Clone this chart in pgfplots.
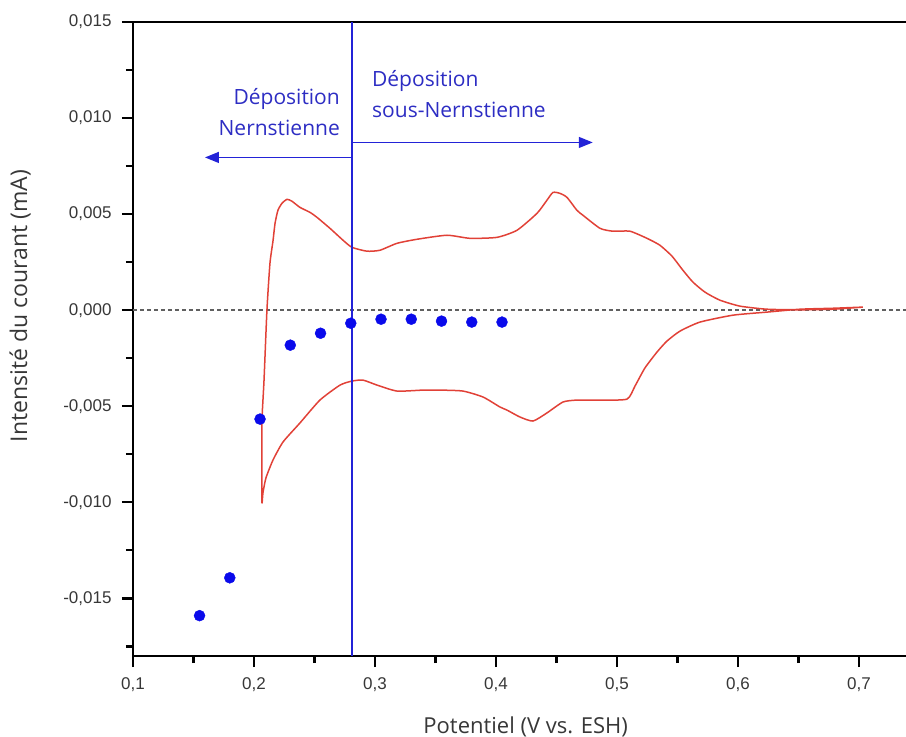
\documentclass[border=0pt]{standalone}
\usepackage{fontspec}
\setmainfont{Liberation Sans}
\newfontfamily\lblfont{Open Sans}
\usepackage{pgfplots}
\pgfplotsset{compat=1.18}
\usetikzlibrary{arrows.meta}
\definecolor{cvred}{RGB}{225,65,55}
\definecolor{dotblue}{RGB}{10,10,235}
\definecolor{lineblue}{RGB}{35,35,215}
\definecolor{txtblue}{RGB}{45,45,195}
\definecolor{tickgray}{RGB}{55,55,55}

\begin{document}
\begin{tikzpicture}
\begin{axis}[
  scale only axis, width=773pt, height=634pt,
  xmin=0.1, xmax=0.7389, ymin=-0.018, ymax=0.015,
  axis x line=box, axis y line=left,
  axis line style={-, line width=2.3pt, black},
  x axis line style={line width=2.3pt},
  y axis line style={line width=2.3pt},
  xtick pos=left, ytick pos=left, tick align=outside,
  xtick={0.1,0.2,0.3,0.4,0.5,0.6,0.7},
  minor xtick={0.15,0.25,0.35,0.45,0.55,0.65},
  ytick={-0.015,-0.01,-0.005,0,0.005,0.01,0.015},
  minor ytick={-0.0175,-0.0125,-0.0075,-0.0025,0.0025,0.0075,0.0125},
  major tick length=11pt, minor tick length=7pt,
  tick style={black, line width=2.3pt},
  scaled x ticks=false, scaled y ticks=false,
  xticklabel style={yshift=-7pt, /pgf/number format/.cd, fixed, fixed zerofill, precision=1, use comma, assume math mode=true},
  yticklabel style={xshift=-7pt, /pgf/number format/.cd, fixed, fixed zerofill, precision=3, use comma, assume math mode=true},
  tick label style={font=\fontsize{17}{20}\selectfont, text=tickgray},
  xlabel={Potentiel (V vs. ESH)},
  ylabel={Intensité du courant (mA)},
  xlabel style={font=\lblfont\fontsize{22}{26}\selectfont, text=tickgray, at={(axis description cs:0.508,-0.1215)}, anchor=base},
  ylabel style={font=\lblfont\fontsize{23}{27}\selectfont, text=tickgray, at={(axis description cs:-0.146,0.552)}, anchor=center},
]
% zero line
\addplot[gray!75!black, line width=1.5pt, dash pattern=on 4pt off 3pt] coordinates {(0.1,0) (0.7389,0)};
% cyclic voltammogram
\addplot[cvred, line width=1.5pt, line join=round, smooth, tension=0.35] coordinates {
(0.7033,0.00016) (0.6785,0.00010) (0.6512,0.00005) (0.6240,-0.00010)
(0.5959,-0.00026) (0.5686,-0.00062) (0.5521,-0.00109) (0.5413,-0.00161)
(0.5331,-0.00218) (0.5231,-0.00301) (0.5149,-0.00395)
(0.5083,-0.00463) (0.4860,-0.00468) (0.4669,-0.00468) (0.4554,-0.00478)
(0.4421,-0.00535) (0.4306,-0.00577) (0.4198,-0.00556) (0.4091,-0.00520)
(0.4033,-0.00504) (0.3893,-0.00452) (0.3727,-0.00421) (0.3537,-0.00416)
(0.3397,-0.00416) (0.3182,-0.00421) (0.3017,-0.00390) (0.2901,-0.00364)
(0.2810,-0.00369) (0.2711,-0.00390) (0.2545,-0.00468) (0.2380,-0.00587)
(0.2240,-0.00686) (0.2157,-0.00780) (0.2099,-0.00873) (0.2074,-0.00951)
(0.2066,-0.01003) (0.2066,-0.00780) (0.2066,-0.00572) (0.2083,-0.00364)
(0.2107,0.00000) (0.2132,0.00244) (0.2157,0.00360) (0.2174,0.00452)
(0.2198,0.00520) (0.2231,0.00556) (0.2273,0.00577) (0.2314,0.00567)
(0.2380,0.00535) (0.2463,0.00509) (0.2521,0.00483) (0.2628,0.00426)
(0.2736,0.00364) (0.2810,0.00327) (0.2934,0.00307) (0.3041,0.00312)
(0.3182,0.00348) (0.3347,0.00369) (0.3595,0.00390) (0.3785,0.00374)
(0.4008,0.00379) (0.4174,0.00416) (0.4339,0.00504) (0.4421,0.00572)
(0.4471,0.00613) (0.4529,0.00608) (0.4587,0.00587) (0.4669,0.00520)
(0.4719,0.00494) (0.4860,0.00426) (0.4967,0.00411) (0.5107,0.00411)
(0.5248,0.00374) (0.5355,0.00338) (0.5455,0.00281) (0.5545,0.00208)
(0.5628,0.00146) (0.5727,0.00094) (0.5851,0.00052) (0.6017,0.00021)
(0.6240,0.00005) (0.6512,0.00002) (0.6785,0.00005) (0.7033,0.00016)
};
% measured points
\addplot[only marks, mark=*, mark size=5.5pt, dotblue, mark options={draw=dotblue, fill=dotblue}] coordinates {
(0.155,-0.0159) (0.180,-0.01393) (0.205,-0.00567) (0.230,-0.00182)
(0.255,-0.00120) (0.280,-0.00068) (0.305,-0.00047) (0.330,-0.00047)
(0.355,-0.00057) (0.380,-0.00062) (0.405,-0.00062)
};
% separation line
\addplot[lineblue, line width=1.4pt] coordinates {(0.281,-0.018) (0.281,0.015)};
\draw[lineblue, line width=1.4pt, -{Triangle[length=14pt,width=11pt]}] (axis cs:0.281,0.00795) -- (axis cs:0.1595,0.00795);
\draw[lineblue, line width=1.4pt, -{Triangle[length=14pt,width=11pt]}] (axis cs:0.281,0.00873) -- (axis cs:0.480,0.00873);
\node[anchor=east, align=right, inner sep=0pt, text=txtblue, font=\lblfont\fontsize{21}{31}\selectfont] at (axis cs:0.2711,0.01029) {Déposition\\Nernstienne};
\node[anchor=west, align=left, inner sep=0pt, text=txtblue, font=\lblfont\fontsize{21}{31}\selectfont] at (axis cs:0.2975,0.01123) {Déposition\\sous-Nernstienne};
\end{axis}
\pgfresetboundingbox
\path ([shift={(-133pt,-81pt)}]current axis.south west) rectangle ([shift={(0pt,22pt)}]current axis.north east);
\end{tikzpicture}
\end{document}
